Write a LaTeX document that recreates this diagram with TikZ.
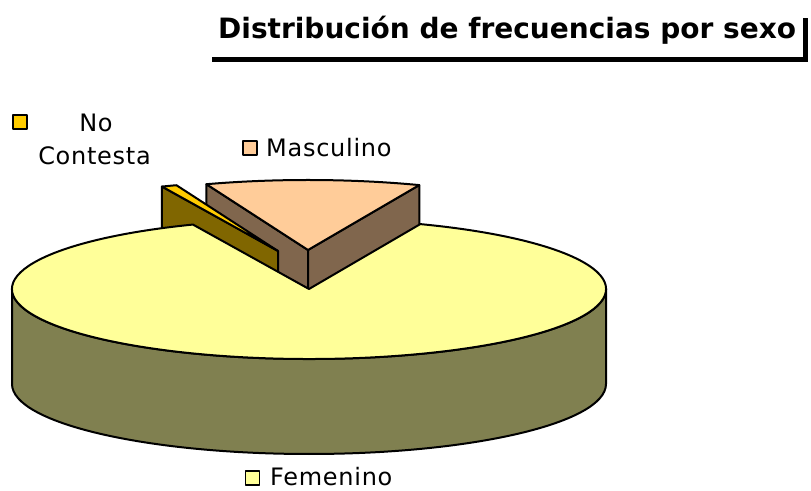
\documentclass[tikz,border=0pt]{standalone}
\usepackage{fontspec}
\setmainfont{DejaVu Sans}
\newfontfamily\labfont[LetterSpace=3]{DejaVu Sans}
\usetikzlibrary{calc}
\definecolor{femtop}{RGB}{255,255,153}
\definecolor{femside}{RGB}{128,128,80}
\definecolor{mastop}{RGB}{255,204,153}
\definecolor{masside}{RGB}{128,102,77}
\definecolor{nctop}{RGB}{255,204,0}
\definecolor{ncside}{RGB}{128,102,0}
\begin{document}
\begin{tikzpicture}[x=1pt,y=1pt,line join=round,
  face/.style={draw=black,line width=2pt},
  keybox/.style={draw=black,line width=1.4pt,minimum size=14pt,inner sep=0pt},
  lab/.style={inner sep=0pt,font=\labfont\fontsize{24}{28}\selectfont}]
\useasboundingbox (0,0) rectangle (811,490);
\def\rx{297}\def\ry{70}\def\dep{95}
\coordinate (C) at (309,201);
\coordinate (M) at ($(C)+(-1,39)$);
\coordinate (N) at ($(C)+(-31,38)$);
\path (M) ++(68:297 and 70) coordinate (M1);
\path (M) ++(110:297 and 70) coordinate (M2);
\path (N) ++(110:297 and 70) coordinate (N1);
\path (N) ++(113:297 and 70) coordinate (N2);
% Masculino slice
\filldraw[face,fill=masside] (M) -- (M2) -- ++(0,-\dep) -- ($(M)+(0,-\dep)$) -- cycle;
\filldraw[face,fill=masside] (M) -- (M1) -- ++(0,-\dep) -- ($(M)+(0,-\dep)$) -- cycle;
\filldraw[face,fill=mastop] (M) -- (M1) arc[start angle=68,end angle=110,x radius=\rx,y radius=\ry] -- cycle;
% No Contesta slice
\filldraw[face,fill=ncside] (N) -- (N2) -- ++(0,-\dep) -- ($(N)+(0,-\dep)$) -- cycle;
\filldraw[face,fill=nctop] (N) -- (N1) arc[start angle=110,end angle=113,x radius=\rx,y radius=\ry] -- cycle;
% Femenino slice
\filldraw[face,fill=femside] ($(C)+(-\rx,0)$) arc[start angle=180,end angle=360,x radius=\rx,y radius=\ry] -- ++(0,-\dep) arc[start angle=0,end angle=-180,x radius=\rx,y radius=\ry] -- cycle;
\filldraw[face,fill=femtop] (C) -- ++(113:297 and 70) arc[start angle=113,end angle=428,x radius=\rx,y radius=\ry] -- cycle;
% Title
\fill[black] (212,428) rectangle (808,472);
\fill[white] (207,433) rectangle (803,477);
\node[anchor=base west,inner sep=0pt,font=\bfseries\fontsize{28}{32}\selectfont] (title) at (218,451) {Distribución de frecuencias por sexo};
% Legend
\node[keybox,fill=mastop] (mkey) at (250,342) {};
\node[lab,anchor=base west] (mlab) at (266,333) {Masculino};
\node[keybox,fill=nctop] (nkey) at (20,368) {};
\node[lab,anchor=base] (nlab1) at (96,358) {No};
\node[lab,anchor=base] (nlab2) at (94.5,325) {Contesta};
\node[keybox,fill=femtop] (fkey) at (252.5,12) {};
\node[lab,anchor=base west] (flab) at (270,5) {Femenino};
\end{tikzpicture}
\end{document}
